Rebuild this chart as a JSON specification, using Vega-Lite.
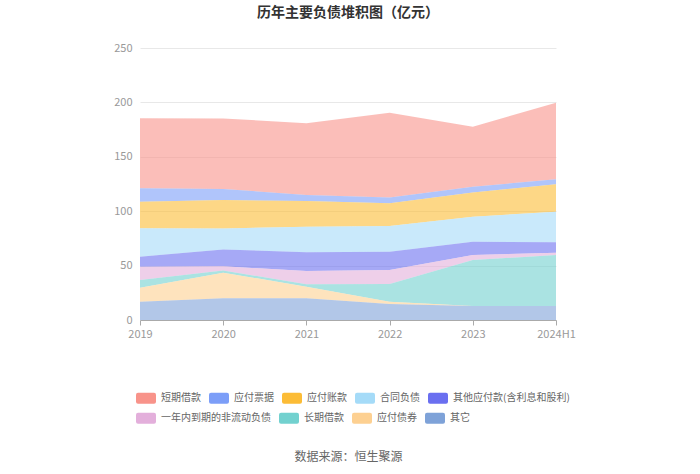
{
  "$schema": "https://vega.github.io/schema/vega-lite/v6.json",
  "autosize": "none",
  "width": 416,
  "height": 272,
  "padding": {"left": 140, "top": 48, "right": 144, "bottom": 154},
  "background": "#ffffff",
  "config": {
    "font": "Noto Sans CJK SC",
    "view": {"stroke": null},
    "legend": {
      "title": null,
      "orient": "none",
      "direction": "horizontal",
      "symbolType": "M-0.8,-0.55 L0.8,-0.55 Q1,-0.55 1,-0.35 L1,0.35 Q1,0.55 0.8,0.55 L-0.8,0.55 Q-1,0.55 -1,0.35 L-1,-0.35 Q-1,-0.55 -0.8,-0.55 Z",
      "symbolSize": 400,
      "symbolOpacity": 1,
      "symbolStrokeWidth": 0,
      "labelFontSize": 10,
      "labelColor": "#666666",
      "labelOffset": 5,
      "columnPadding": 8,
      "labelLimit": 300
    }
  },
  "title": {
    "text": "历年主要负债堆积图（亿元）",
    "fontSize": 14,
    "fontWeight": "bold",
    "color": "#333333",
    "anchor": "middle",
    "offset": 22
  },
  "data": {
    "values": [
      {"year": "2019", "item": "短期借款", "v": 64.4, "k": 9},
      {"year": "2019", "item": "应付票据", "v": 12.3, "k": 8},
      {"year": "2019", "item": "应付账款", "v": 24.4, "k": 7},
      {"year": "2019", "item": "合同负债", "v": 26.1, "k": 6},
      {"year": "2019", "item": "其他应付款(含利息和股利)", "v": 9.2, "k": 5},
      {"year": "2019", "item": "一年内到期的非流动负债", "v": 12.2, "k": 4},
      {"year": "2019", "item": "长期借款", "v": 7.1, "k": 3},
      {"year": "2019", "item": "应付债券", "v": 12.9, "k": 2},
      {"year": "2019", "item": "其它", "v": 16.8, "k": 1},
      {"year": "2020", "item": "短期借款", "v": 64.9, "k": 9},
      {"year": "2020", "item": "应付票据", "v": 10.2, "k": 8},
      {"year": "2020", "item": "应付账款", "v": 26.0, "k": 7},
      {"year": "2020", "item": "合同负债", "v": 19.3, "k": 6},
      {"year": "2020", "item": "其他应付款(含利息和股利)", "v": 15.6, "k": 5},
      {"year": "2020", "item": "一年内到期的非流动负债", "v": 3.8, "k": 4},
      {"year": "2020", "item": "长期借款", "v": 2.0, "k": 3},
      {"year": "2020", "item": "应付债券", "v": 23.6, "k": 2},
      {"year": "2020", "item": "其它", "v": 19.9, "k": 1},
      {"year": "2021", "item": "短期借款", "v": 65.9, "k": 9},
      {"year": "2021", "item": "应付票据", "v": 5.5, "k": 8},
      {"year": "2021", "item": "应付账款", "v": 23.6, "k": 7},
      {"year": "2021", "item": "合同负债", "v": 23.6, "k": 6},
      {"year": "2021", "item": "其他应付款(含利息和股利)", "v": 17.2, "k": 5},
      {"year": "2021", "item": "一年内到期的非流动负债", "v": 12.2, "k": 4},
      {"year": "2021", "item": "长期借款", "v": 2.2, "k": 3},
      {"year": "2021", "item": "应付债券", "v": 10.7, "k": 2},
      {"year": "2021", "item": "其它", "v": 19.9, "k": 1},
      {"year": "2022", "item": "短期借款", "v": 77.8, "k": 9},
      {"year": "2022", "item": "应付票据", "v": 5.5, "k": 8},
      {"year": "2022", "item": "应付账款", "v": 20.8, "k": 7},
      {"year": "2022", "item": "合同负债", "v": 23.6, "k": 6},
      {"year": "2022", "item": "其他应付款(含利息和股利)", "v": 16.8, "k": 5},
      {"year": "2022", "item": "一年内到期的非流动负债", "v": 12.9, "k": 4},
      {"year": "2022", "item": "长期借款", "v": 16.3, "k": 3},
      {"year": "2022", "item": "应付债券", "v": 2.1, "k": 2},
      {"year": "2022", "item": "其它", "v": 14.7, "k": 1},
      {"year": "2023", "item": "短期借款", "v": 55.2, "k": 9},
      {"year": "2023", "item": "应付票据", "v": 5.2, "k": 8},
      {"year": "2023", "item": "应付账款", "v": 22.3, "k": 7},
      {"year": "2023", "item": "合同负债", "v": 23.0, "k": 6},
      {"year": "2023", "item": "其他应付款(含利息和股利)", "v": 12.3, "k": 5},
      {"year": "2023", "item": "一年内到期的非流动负债", "v": 4.6, "k": 4},
      {"year": "2023", "item": "长期借款", "v": 42.2, "k": 3},
      {"year": "2023", "item": "应付债券", "v": 0.0, "k": 2},
      {"year": "2023", "item": "其它", "v": 12.9, "k": 1},
      {"year": "2024H1", "item": "短期借款", "v": 70.4, "k": 9},
      {"year": "2024H1", "item": "应付票据", "v": 4.6, "k": 8},
      {"year": "2024H1", "item": "应付账款", "v": 25.1, "k": 7},
      {"year": "2024H1", "item": "合同负债", "v": 28.2, "k": 6},
      {"year": "2024H1", "item": "其他应付款(含利息和股利)", "v": 9.5, "k": 5},
      {"year": "2024H1", "item": "一年内到期的非流动负债", "v": 2.2, "k": 4},
      {"year": "2024H1", "item": "长期借款", "v": 46.8, "k": 3},
      {"year": "2024H1", "item": "应付债券", "v": 0.0, "k": 2},
      {"year": "2024H1", "item": "其它", "v": 12.9, "k": 1}
    ]
  },
  "encoding": {
    "x": {
      "field": "year",
      "type": "ordinal",
      "scale": {"type": "point", "padding": 0},
      "axis": {
        "title": "数据来源：恒生聚源",
        "titleFontSize": 12,
        "titleFontWeight": "normal",
        "titleColor": "#666666",
        "titlePadding": 112,
        "labelAngle": 0,
        "labelFontSize": 11,
        "labelColor": "#999999",
        "labelPadding": 3,
        "domainColor": "#aaaaaa",
        "tickColor": "#aaaaaa",
        "tickSize": 5,
        "grid": false
      }
    }
  },
  "layer": [
    {
      "mark": {"type": "area", "fillOpacity": 0.6, "interpolate": "linear"},
      "encoding": {
        "y": {
          "field": "v",
          "type": "quantitative",
          "stack": "zero",
          "scale": {"domain": [0, 250], "nice": false},
          "axis": {
            "title": null,
            "values": [0, 50, 100, 150, 200, 250],
            "labelFontSize": 11,
            "labelColor": "#999999",
            "labelPadding": 8,
            "domain": false,
            "ticks": false,
            "gridColor": "#e8e8e8"
          }
        },
        "color": {
          "field": "item",
          "type": "nominal",
          "scale": {
            "domain": ["短期借款", "应付票据", "应付账款", "合同负债", "其他应付款(含利息和股利)", "一年内到期的非流动负债", "长期借款", "应付债券", "其它"],
            "range": ["#f8938a", "#7c9ef8", "#fcbc36", "#a5dbf8", "#6a6ff0", "#e3afdb", "#72d1cf", "#fdd091", "#7ea2d8"]
          },
          "legend": null
        },
        "order": {"field": "k", "type": "quantitative", "sort": "ascending"}
      }
    },
    {
      "transform": [{"filter": {"field": "k", "gte": 5}}],
      "mark": {"type": "point", "filled": true, "opacity": 0},
      "encoding": {
        "color": {
          "field": "item",
          "type": "nominal",
          "scale": {
            "domain": ["短期借款", "应付票据", "应付账款", "合同负债", "其他应付款(含利息和股利)"],
            "range": ["#f8938a", "#7c9ef8", "#fcbc36", "#a5dbf8", "#6a6ff0"]
          },
          "legend": {"legendX": -4, "legendY": 340}
        }
      }
    },
    {
      "transform": [{"filter": {"field": "k", "lte": 4}}],
      "mark": {"type": "point", "filled": true, "opacity": 0},
      "encoding": {
        "color": {
          "field": "item",
          "type": "nominal",
          "scale": {
            "domain": ["一年内到期的非流动负债", "长期借款", "应付债券", "其它"],
            "range": ["#e3afdb", "#72d1cf", "#fdd091", "#7ea2d8"]
          },
          "legend": {"legendX": -4, "legendY": 360}
        }
      }
    }
  ],
  "resolve": {"scale": {"color": "independent"}}
}
